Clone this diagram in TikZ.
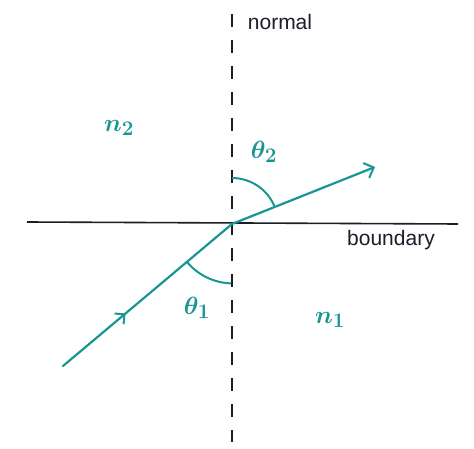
\documentclass[tikz,border=0pt]{standalone}
\usepackage{fontspec}
\setmainfont{Liberation Sans}
\usetikzlibrary{arrows.meta,decorations.markings,calc}
\definecolor{ray}{RGB}{24,150,146}
\definecolor{ink}{RGB}{25,30,40}
\tikzset{
  raystyle/.style={draw=ray, line width=2.2pt, line cap=round},
  arcstyle/.style={draw=ray, line width=2pt},
  normalline/.style={draw=ink, line width=1.6pt, dash pattern=on 13pt off 13pt},
  boundaryline/.style={draw=ink, line width=1.6pt},
  lab/.style={text=ray, font=\fontsize{29}{29}\selectfont\boldmath},
  word/.style={text=ink, font=\fontsize{21}{21}\selectfont},
  midarrow/.style={postaction={decorate}, decoration={markings, mark=at position 0.37 with {\arrow{Straight Barb[length=7pt,width=14pt,line width=2pt]}}}}
}
\begin{document}
\begin{tikzpicture}[x=1pt,y=-1pt]
\useasboundingbox (0,0) rectangle (474,449);
\fill[white] (0,0) rectangle (474,449);
\coordinate (O) at (232,224);
\coordinate (ntop) at (232,14);
\coordinate (nbot) at (232,442);
\coordinate (bl) at (27,222);
\coordinate (br) at (458,224);
\coordinate (src) at (63,366);
\coordinate (dst) at (375,167);
\draw[normalline] (ntop) -- (nbot);
\draw[boundaryline] (bl) -- (br);
\draw[raystyle, midarrow] (src) -- (O);
\draw[raystyle, -{Straight Barb[length=8pt,width=16pt,line width=2pt]}] (O) -- (dst);
% theta2 arc: from normal (up) to refracted ray
\draw[arcstyle] (232,178) arc[start angle=90, end angle=22, radius=46pt];
% theta1 arc: from incident ray to normal (down)
\draw[arcstyle] ($(O)+(-45,38)$) arc[start angle=220, end angle=268, radius=60pt];
\node[lab] (t2) at (264,152) {$\theta_2$};
\node[lab] (t1) at (197,308) {$\theta_1$};
\node[lab] (n2) at (119,128) {$n_2$};
\node[lab] (n1) at (330,320) {$n_1$};
\node[word] (bw) at (391,240) {boundary};
\node[word] (nw) at (280,22) {normal};
\end{tikzpicture}
\end{document}
